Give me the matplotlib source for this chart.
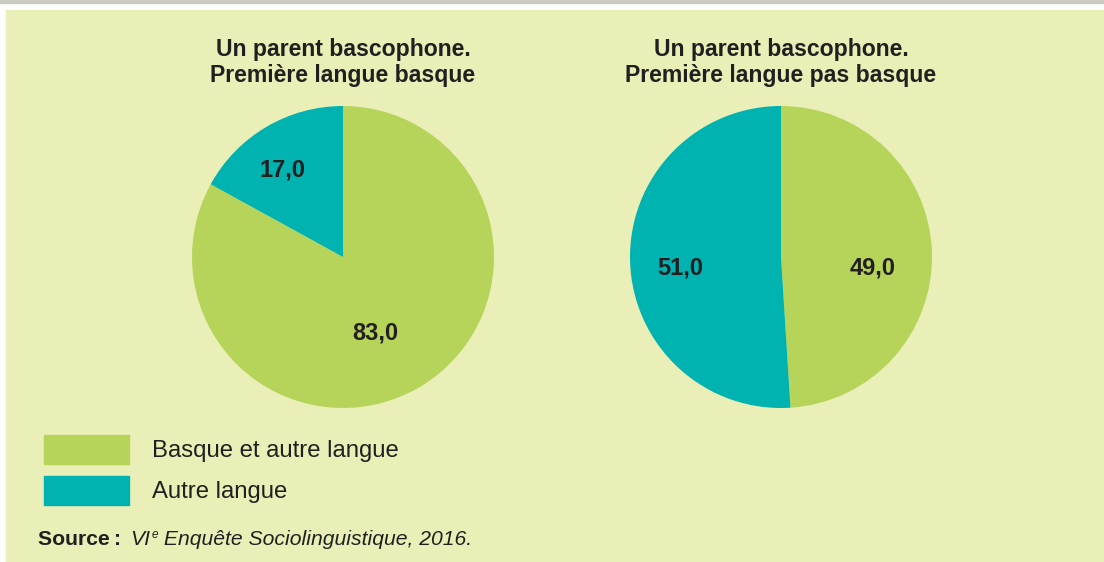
import math
import matplotlib.pyplot as plt
from matplotlib.patches import Rectangle

# Données
titres = ["Un parent bascophone.\nPremière langue basque",
          "Un parent bascophone.\nPremière langue pas basque"]
categories = ["Basque et autre langue", "Autre langue"]
valeurs_1 = [83.0, 17.0]
valeurs_2 = [49.0, 51.0]
source = "Source\u2009:"
source_txt = ["VI", "e", " Enquête Sociolinguistique, 2016."]

couleurs = ["#B6D45A", "#00B2B0"]
fond = "#EAEFB8"
texte = "#231F20"

plt.rcParams['font.family'] = ['Liberation Sans', 'DejaVu Sans']

W, H = 1104, 562
fig = plt.figure(figsize=(W / 100, H / 100), dpi=100)
fig.patch.set_facecolor("white")

# bandeau gris + panneau
fig.patches.append(Rectangle((0, 1 - 3 / H), 1, 3 / H, transform=fig.transFigure,
                             color="#CBCBC3", zorder=-2))
fig.patches.append(Rectangle((6 / W, 0), (1103 - 6) / W, (H - 10) / H,
                             transform=fig.transFigure, color=fond, zorder=-2))

R = 151
centres = [(343, 257), (781, 257)]
# positions des étiquettes (rayon relatif, angle en degrés) par camembert
pos_labels = [[(0.55, -67), (0.70, 125)], [(0.61, -7), (0.67, 186)]]

for i, (vals, titre) in enumerate(zip([valeurs_1, valeurs_2], titres)):
    cx, cy = centres[i]
    ax = fig.add_axes([(cx - R) / W, (H - cy - R) / H, 2 * R / W, 2 * R / H])
    ax.pie(vals, colors=couleurs, startangle=90, counterclock=False,
           radius=1, wedgeprops=dict(linewidth=0))
    ax.set_xlim(-1, 1)
    ax.set_ylim(-1, 1)
    ax.set_aspect('equal')
    ax.axis('off')
    for v, (r, a) in zip(vals, pos_labels[i]):
        ax.text(r * math.cos(math.radians(a)), r * math.sin(math.radians(a)),
                f"{v:.1f}".replace('.', ','), ha='center', va='center',
                fontsize=17, fontweight='bold', color=texte)
    fig.text(cx / W, 1 - 62.5 / H, titre, ha='center', va='center', fontsize=16.6,
             fontweight='bold', color=texte, linespacing=1.2)

# légende
for j, (cat, c) in enumerate(zip(categories, couleurs)):
    y0 = 435 + j * 41
    fig.patches.append(Rectangle((44 / W, 1 - (y0 + 29) / H), 85 / W, 29 / H,
                                 transform=fig.transFigure, color=c, zorder=1))
    fig.text(152 / W, 1 - (y0 + 16) / H, cat, ha='left', va='center',
             fontsize=17.2, color=texte)

# source
fig.canvas.draw()
rend = fig.canvas.get_renderer()
ys = 1 - 539.5 / H
t = fig.text(38 / W, ys, source, ha='left', va='center', fontsize=15.2,
             fontweight='bold', color=texte)
x = t.get_window_extent(rend).x1 + 9
t = fig.text(x / W, ys, source_txt[0], ha='left', va='center', fontsize=15.2,
             style='italic', color=texte)
x = t.get_window_extent(rend).x1 + 1
t = fig.text(x / W, ys + 5 / H, source_txt[1], ha='left', va='center', fontsize=8.5,
             style='italic', color=texte)
x = t.get_window_extent(rend).x1
fig.text(x / W, ys, source_txt[2], ha='left', va='center', fontsize=15.2,
         style='italic', color=texte)

fig.savefig("out.png", dpi=100, facecolor=fig.get_facecolor())
